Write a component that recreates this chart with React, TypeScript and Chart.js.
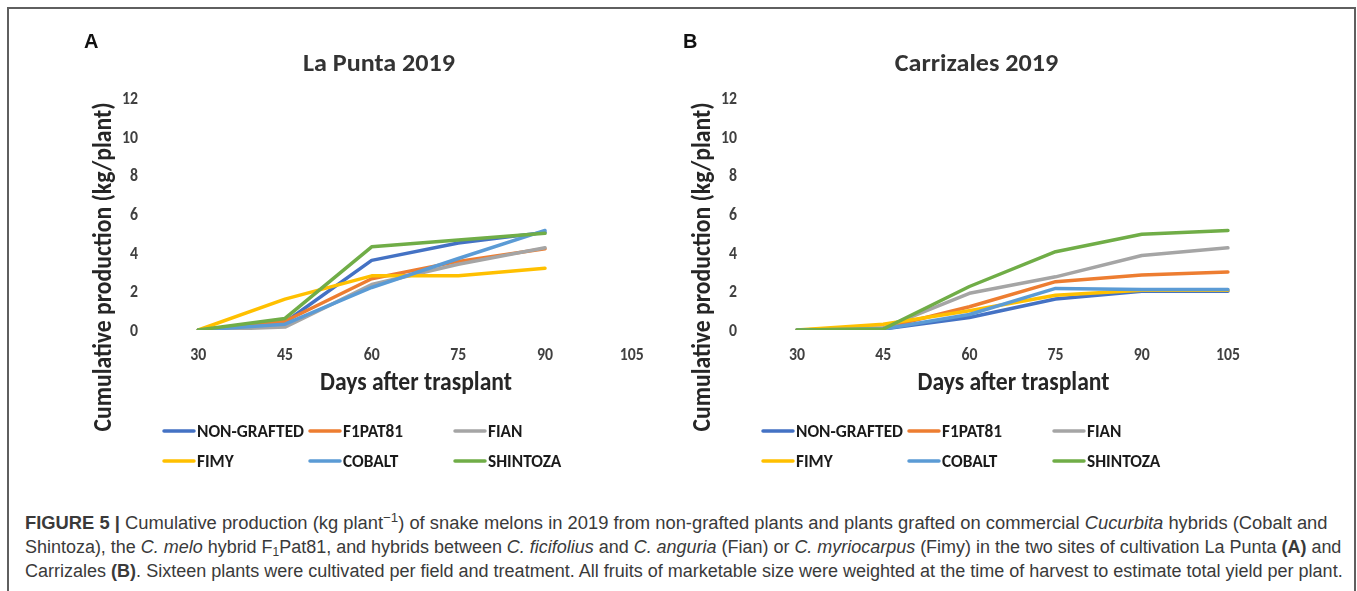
import React, { useEffect, useLayoutEffect, useRef } from "react";
import { Chart, registerables } from "chart.js";

Chart.register(...registerables);

// ---------- data ----------
const DAYS = ["30", "45", "60", "75", "90", "105"];
const Y_TICKS = [0, 2, 4, 6, 8, 10, 12];
const SERIES_NAMES = ["NON-GRAFTED", "F1PAT81", "FIAN", "FIMY", "COBALT", "SHINTOZA"];
const SERIES_COLORS = ["#4472C4", "#ED7D31", "#A5A5A5", "#FFC000", "#5B9BD5", "#70AD47"];

// La Punta 2019 (kg/plant), harvest ends at day 90
const LP_NON_GRAFTED = [0, 0.4, 3.6, 4.5, 5.05, null];
const LP_F1PAT81 = [0, 0.45, 2.65, 3.55, 4.2, null];
const LP_FIAN = [0, 0.15, 2.35, 3.4, 4.25, null];
const LP_FIMY = [0, 1.6, 2.8, 2.8, 3.2, null];
const LP_COBALT = [0, 0.3, 2.2, 3.7, 5.15, null];
const LP_SHINTOZA = [0, 0.6, 4.3, 4.65, 5.0, null];

// Carrizales 2019 (kg/plant)
const CZ_NON_GRAFTED = [0, 0.05, 0.65, 1.6, 2.0, 2.0];
const CZ_F1PAT81 = [0, 0.1, 1.2, 2.5, 2.85, 3.0];
const CZ_FIAN = [0, 0.1, 1.9, 2.75, 3.85, 4.25];
const CZ_FIMY = [0, 0.3, 1.0, 1.8, 2.05, 2.05];
const CZ_COBALT = [0, 0.05, 0.8, 2.15, 2.1, 2.1];
const CZ_SHINTOZA = [0, 0.05, 2.25, 4.05, 4.95, 5.15];

const LA_PUNTA = [LP_NON_GRAFTED, LP_F1PAT81, LP_FIAN, LP_FIMY, LP_COBALT, LP_SHINTOZA];
const CARRIZALES = [CZ_NON_GRAFTED, CZ_F1PAT81, CZ_FIAN, CZ_FIMY, CZ_COBALT, CZ_SHINTOZA];

const X_TITLE = "Days after trasplant";
const Y_TITLE = "Cumulative production (kg/plant)";

// ---------- drawing helpers ----------
const FONT = "Carlito, Lato, 'Open Sans', sans-serif";

type Scl = { sx: number; sy: number; asc: number };

function fitScale(ctx: CanvasRenderingContext2D, font: string, ref: string, refW: number, refCap: number): Scl {
  ctx.font = font;
  const w = ctx.measureText(ref).width;
  const asc = ctx.measureText("H").actualBoundingBoxAscent || 10;
  return { sx: refW / w, sy: refCap / asc, asc };
}

function drawText(
  ctx: CanvasRenderingContext2D,
  text: string,
  x: number,
  y: number,
  font: string,
  s: Scl,
  align: CanvasTextAlign,
  color: string,
  mode: "baseline" | "middle" = "baseline",
  rotate = 0
) {
  ctx.save();
  ctx.translate(x, y);
  if (rotate) ctx.rotate(rotate);
  ctx.scale(s.sx, s.sy);
  ctx.font = font;
  ctx.fillStyle = color;
  ctx.textAlign = align;
  ctx.textBaseline = "alphabetic";
  ctx.fillText(text, 0, mode === "middle" ? s.asc / 2 : 0);
  ctx.restore();
}

type Panel = {
  letter: string;
  title: string;
  data: (number | null)[][];
  canvasLeft: number;
  padding: { left: number; right: number; top: number; bottom: number };
};

const PANELS: Panel[] = [
  { letter: "A", title: "La Punta 2019", data: LA_PUNTA, canvasLeft: 0, padding: { left: 155, right: 3, top: 98, bottom: 150 } },
  { letter: "B", title: "Carrizales 2019", data: CARRIZALES, canvasLeft: 678, padding: { left: 76, right: 86, top: 98, bottom: 150 } },
];

function makeDecor(panel: Panel) {
  return {
    id: "decor" + panel.letter,
    afterDraw(chart: any) {
      const ctx: CanvasRenderingContext2D = chart.ctx;
      const { left, right, top, bottom } = chart.chartArea;
      const xs = chart.scales.x;
      const ys = chart.scales.y;
      const mid = (left + right) / 2;
      ctx.save();

      // panel letter
      ctx.font = "bold 20px 'Liberation Sans', Arial, sans-serif";
      ctx.fillStyle = "#111";
      ctx.textAlign = "left";
      ctx.textBaseline = "alphabetic";
      ctx.fillText(panel.letter, left - 71, 48);

      // title
      const tFont = `bold 20px ${FONT}`;
      const tS = fitScale(ctx, tFont, "La Punta 2019", 152, 16.3);
      drawText(ctx, panel.title, mid - 36, 71, tFont, tS, "center", "#333");

      // tick labels
      const kFont = `bold 13px ${FONT}`;
      const kS = fitScale(ctx, kFont, "30", 16, 12.3);
      Y_TICKS.forEach((v) => {
        drawText(ctx, String(v), left - 17, ys.getPixelForValue(v), kFont, kS, "right", "#404040", "middle");
      });
      DAYS.forEach((d, i) => {
        drawText(ctx, d, xs.getPixelForValue(i), bottom + 24, kFont, kS, "center", "#404040", "middle");
      });

      // axis titles
      const aFont = `bold 20px ${FONT}`;
      const xS = fitScale(ctx, aFont, X_TITLE, 192, 16.7);
      drawText(ctx, X_TITLE, mid + 1, bottom + 60, aFont, xS, "center", "#262626");
      const yS = fitScale(ctx, aFont, Y_TITLE, 329, 16.7);
      drawText(ctx, Y_TITLE, left - 52, (top + bottom) / 2 + 53, aFont, yS, "center", "#262626", "middle", -Math.PI / 2);

      // legend (3 columns x 2 rows)
      const lFont = `bold 14px ${FONT}`;
      const lS = fitScale(ctx, lFont, "NON-GRAFTED", 107, 11.7);
      const cols = [8, 154, 299];
      const rows = [101, 131];
      chart.data.datasets.forEach((ds: any, i: number) => {
        const x = left + cols[i % 3];
        const y = bottom + rows[Math.floor(i / 3)];
        ctx.strokeStyle = ds.borderColor;
        ctx.lineWidth = 3.5;
        ctx.lineCap = "round";
        ctx.beginPath();
        ctx.moveTo(x + 1, y);
        ctx.lineTo(x + 31, y);
        ctx.stroke();
        drawText(ctx, ds.label, x + 34, y, lFont, lS, "left", "#1a1a1a", "middle");
      });

      ctx.restore();
    },
  };
}

function PanelChart({ panel }: { panel: Panel }) {
  const ref = useRef<HTMLCanvasElement | null>(null);
  useEffect(() => {
    if (!ref.current) return;
    const chart = new Chart(ref.current, {
      type: "line",
      data: {
        labels: DAYS,
        datasets: SERIES_NAMES.map((name, i) => ({
          label: name,
          data: panel.data[i],
          borderColor: SERIES_COLORS[i],
          backgroundColor: SERIES_COLORS[i],
          borderWidth: 3.5,
          pointRadius: 0,
          tension: 0,
          borderJoinStyle: "round" as const,
          borderCapStyle: "round" as const,
          order: SERIES_NAMES.length - i,
          fill: false,
        })),
      },
      options: {
        animation: false,
        responsive: false,
        maintainAspectRatio: false,
        layout: { padding: panel.padding },
        scales: {
          x: { type: "category", offset: true, display: false },
          y: { type: "linear", min: 0, max: 12, display: false },
        },
        plugins: { legend: { display: false }, tooltip: { enabled: false }, title: { display: false } },
      },
      plugins: [makeDecor(panel)],
    });
    return () => chart.destroy();
  }, [panel]);
  return (
    <canvas
      ref={ref}
      width={panel.canvasLeft === 0 ? 678 : 679}
      height={480}
      style={{ position: "absolute", left: panel.canvasLeft, top: 0 }}
    />
  );
}

const CAPTION_WIDTHS = [1303, 1316, 1318];

function Caption() {
  const r0 = useRef<HTMLDivElement | null>(null);
  const r1 = useRef<HTMLDivElement | null>(null);
  const r2 = useRef<HTMLDivElement | null>(null);
  useLayoutEffect(() => {
    [r0, r1, r2].forEach((r, i) => {
      const el = r.current;
      if (!el) return;
      const w = el.offsetWidth;
      if (w > 0) el.style.transform = `scaleX(${CAPTION_WIDTHS[i] / w})`;
    });
  }, []);
  const lineStyle: React.CSSProperties = {
    position: "absolute",
    left: 25,
    whiteSpace: "nowrap",
    display: "inline-block",
    transformOrigin: "0 0",
    fontFamily: "'Liberation Sans', Arial, sans-serif",
    fontSize: 18,
    lineHeight: "24px",
    color: "#3a3a3a",
  };
  const sup: React.CSSProperties = { fontSize: 13, lineHeight: 0, verticalAlign: "7px" };
  const sub: React.CSSProperties = { fontSize: 12, lineHeight: 0, verticalAlign: "-3px" };
  return (
    <>
      <div ref={r0} style={{ ...lineStyle, top: 511 }}>
        <b>FIGURE 5 |</b> Cumulative production (kg plant<span style={sup}>−1</span>) of snake melons in 2019 from non-grafted
        plants and plants grafted on commercial <i>Cucurbita</i> hybrids (Cobalt and
      </div>
      <div ref={r1} style={{ ...lineStyle, top: 535 }}>
        Shintoza), the <i>C. melo</i> hybrid F<span style={sub}>1</span>Pat81, and hybrids between <i>C. ficifolius</i> and{" "}
        <i>C. anguria</i> (Fian) or <i>C. myriocarpus</i> (Fimy) in the two sites of cultivation La Punta <b>(A)</b> and
      </div>
      <div ref={r2} style={{ ...lineStyle, top: 559 }}>
        Carrizales <b>(B)</b>. Sixteen plants were cultivated per field and treatment. All fruits of marketable size were weighted
        at the time of harvest to estimate total yield per plant.
      </div>
    </>
  );
}

export default function App() {
  return (
    <div
      style={{
        position: "absolute",
        left: 0,
        top: 0,
        width: 1357,
        height: 591,
        overflow: "hidden",
        background: "#fff",
      }}
    >
      <div
        style={{
          position: "absolute",
          left: 7,
          top: 7,
          width: 1349,
          height: 700,
          border: "2px solid #5f5f5f",
          boxSizing: "border-box",
        }}
      />
      {PANELS.map((p) => (
        <PanelChart key={p.letter} panel={p} />
      ))}
      <Caption />
    </div>
  );
}
